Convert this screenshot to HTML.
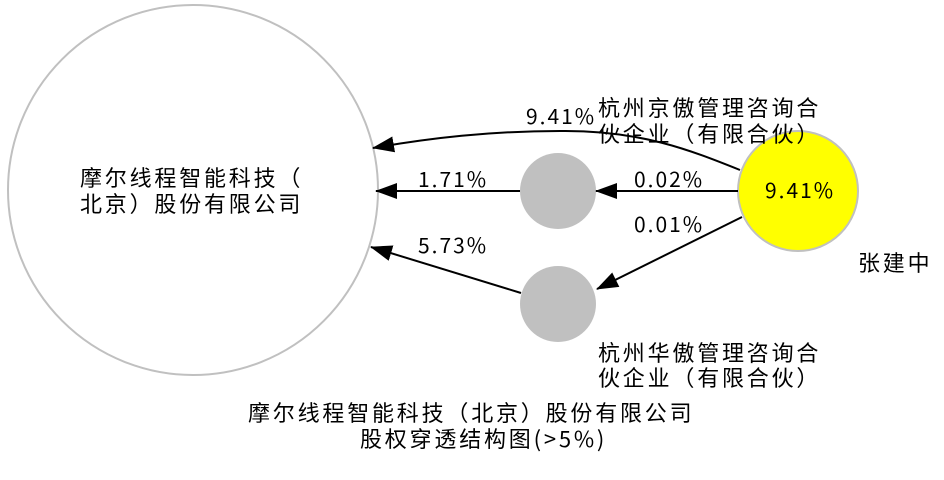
<!DOCTYPE html>
<html><head><meta charset="utf-8"><style>
html,body{margin:0;padding:0;background:#fff;}
svg text{font-family:"WenQuanYi Zen Hei","Noto Sans CJK SC",sans-serif;font-size:22px;fill:#000;letter-spacing:2.8px;}
svg text.n{letter-spacing:2px;font-size:21px;}
</style></head><body>
<svg width="944" height="475" viewBox="0 0 944 475" xmlns="http://www.w3.org/2000/svg">
<defs>
<marker id="b" markerWidth="22" markerHeight="16" refX="21" refY="8" orient="auto" markerUnits="userSpaceOnUse" viewBox="0 0 22 16"><path d="M0,0 L22,8 L0,16z" fill="#000"/></marker></defs>
<circle cx="193" cy="190" r="185" fill="#fff" stroke="#c0c0c0" stroke-width="2"/>
<circle cx="558" cy="191" r="38" fill="#c0c0c0"/>
<circle cx="558" cy="304" r="38" fill="#c0c0c0"/>
<circle cx="798" cy="191" r="60" fill="#ffff00" stroke="#c0c0c0" stroke-width="2"/>
<g stroke="#000" stroke-width="2" fill="none">
<path d="M740,170 C690,150 640,130 560,131 C490,131 430,138 373,148" marker-end="url(#b)"/>
<line x1="520" y1="191" x2="376" y2="191" marker-end="url(#b)"/>
<line x1="738" y1="191" x2="596" y2="191" marker-end="url(#b)"/>
<line x1="742" y1="217" x2="597" y2="289" marker-end="url(#b)"/>
<line x1="521" y1="293" x2="371" y2="247" marker-end="url(#b)"/>
</g>
<text class="n" x="526" y="124">9.41%</text>
<text class="n" x="418" y="187">1.71%</text>
<text class="n" x="634" y="187">0.02%</text>
<text class="n" x="634" y="232">0.01%</text>
<text class="n" x="418" y="253">5.73%</text>
<text class="n" x="765" y="198">9.41%</text>
<text x="598" y="116">杭州京傲管理咨询合</text>
<text x="598" y="142">伙企业（有限合伙）</text>
<text x="598" y="361">杭州华傲管理咨询合</text>
<text x="598" y="386">伙企业（有限合伙）</text>
<text x="858" y="271">张建中</text>
<text x="80" y="186">摩尔线程智能科技（</text>
<text x="80" y="212">北京）股份有限公司</text>
<text x="248" y="421">摩尔线程智能科技（北京）股份有限公司</text>
<text x="360" y="447">股权穿透结构图(&gt;5%)</text>
</svg>
</body></html>
